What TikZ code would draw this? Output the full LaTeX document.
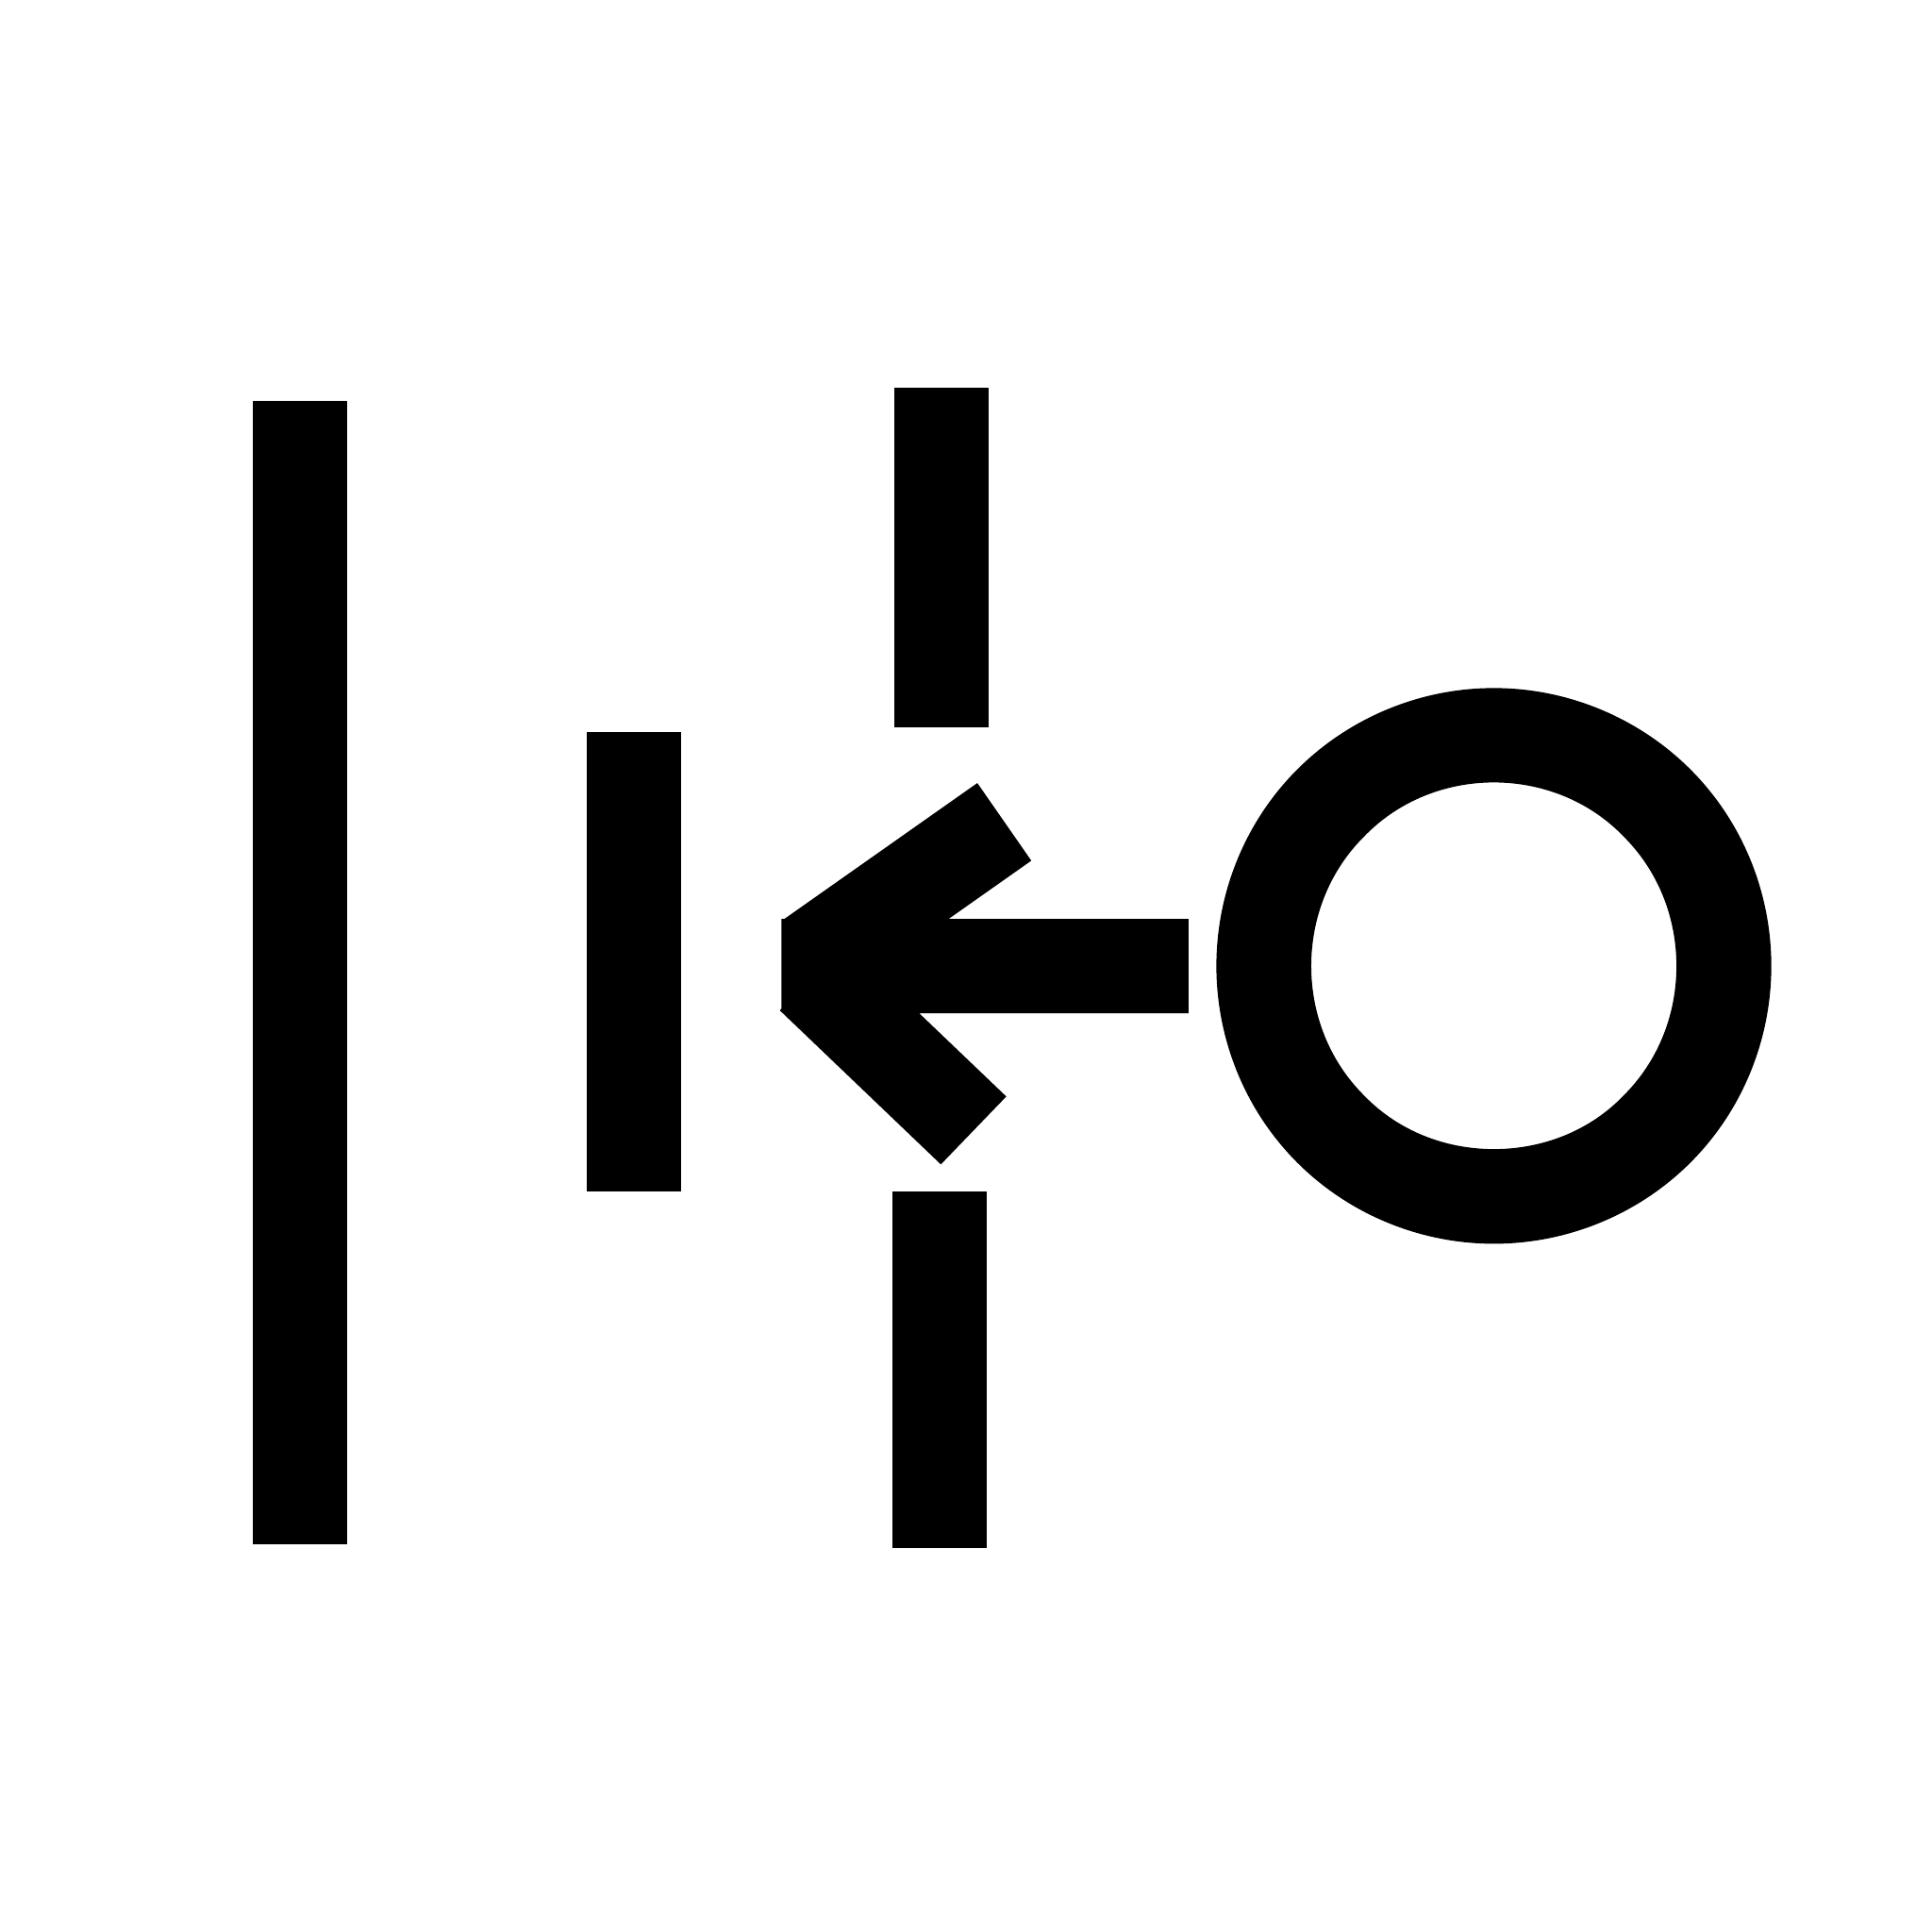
\documentclass[tikz,border=0pt]{standalone}
\usetikzlibrary{calc}
\begin{document}
\begin{tikzpicture}[
  x=0.01cm,y=-0.01cm,
  solidpart/.style={fill=black,draw=none}
]
  \useasboundingbox (0,0) rectangle (1568,1568);
  % Bars
  \fill[solidpart] (205,325.3) rectangle (282,1253);
  \fill[solidpart] (476,594.3) rectangle (553,967);
  \fill[solidpart] (725.6,314.6) rectangle (802.4,590);
  \fill[solidpart] (724,967.3) rectangle (801,1256);
  % Arrow
  \fill[solidpart] (634.2,745.7) -- (636.7,745.7) -- (793.2,635.5) -- (837,698.5) -- (770,745.7) -- (964.6,745.7)
    -- (964.6,822.3) -- (746,822.3) -- (816.7,889.9) -- (763.6,945) -- (632.9,820) -- (634.2,818.7) -- cycle;
  % Ring
  \fill[solidpart,even odd rule] (1212.4,558.4)
    .. controls (1272,558.4) and (1329.8,582.3) .. (1372,624.5)
    .. controls (1414.2,666.7) and (1437.6,724.4) .. (1437.6,784)
    .. controls (1437.6,843.6) and (1414.2,901.3) .. (1372,943.5)
    .. controls (1329.8,985.7) and (1272,1009.4) .. (1212.4,1009.4)
    .. controls (1152.8,1009.4) and (1095,985.7) .. (1052.8,943.5)
    .. controls (1010.6,901.3) and (987.2,843.6) .. (987.2,784)
    .. controls (987.2,724.4) and (1010.6,666.7) .. (1052.8,624.5)
    .. controls (1095,582.3) and (1152.8,558.4) .. cycle
    (1212.4,635)
    .. controls (1251.5,635) and (1290,650) .. (1317.6,678.8)
    .. controls (1346,707) and (1360.6,745) .. (1360.6,784)
    .. controls (1360.6,823) and (1346,861) .. (1317.6,889.2)
    .. controls (1290,918) and (1251.5,932.6) .. (1212.4,932.6)
    .. controls (1173.3,932.6) and (1135,918) .. (1107.2,889.2)
    .. controls (1078.8,861) and (1064.2,823) .. (1064.2,784)
    .. controls (1064.2,745) and (1078.8,707) .. (1107.2,678.8)
    .. controls (1135,650) and (1173.3,635) .. cycle;
\end{tikzpicture}
\end{document}
